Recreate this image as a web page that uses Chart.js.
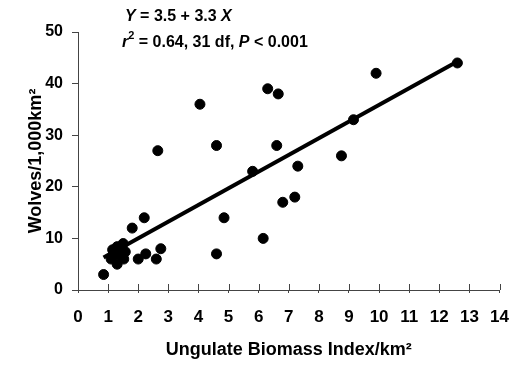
<!DOCTYPE html>
<html>
<head>
<meta charset="utf-8">
<script src="https://cdn.jsdelivr.net/npm/chart.js@4/dist/chart.umd.min.js"></script>
<style>
  html, body { margin: 0; padding: 0; background: #fff; }
  #wrap { width: 523px; height: 365px; }
</style>
</head>
<body>
<div id="wrap"><canvas id="myChart" width="523" height="365"></canvas></div>
<script>
// biomass index (x) and wolf density (y)
const biomass = [0.85, 1.1, 1.15, 1.3, 1.3, 1.35, 1.5, 1.52, 1.57, 1.8, 2.0, 2.2, 2.25, 2.6, 2.65, 2.75,
  4.05, 4.6, 4.6, 4.85, 5.8, 6.15, 6.3, 6.6, 6.65, 6.8, 7.2, 7.3, 8.75, 9.15, 9.9, 12.6, 1.4];
const wolves = [3, 6, 7.8, 8.4, 5, 6.8, 9, 6, 7.4, 12, 6, 14, 7, 6, 27, 8,
  36, 28, 7, 14, 23, 10, 39, 28, 38, 17, 18, 24, 26, 33, 42, 44, 8];

// fitted line end points (Y = 3.5 + 3.3 X)
const fitX = [0.85, 12.6];
const fitY = [6.3, 44.3];

const xTicks = [0, 1, 2, 3, 4, 5, 6, 7, 8, 9, 10, 11, 12, 13, 14];
const yTicks = [0, 10, 20, 30, 40, 50];

const FONT = "'Liberation Sans', Arial, sans-serif";

// small ticks that cross the x axis upward, plus the equation text
const extras = {
  id: "extras",
  afterDraw(chart) {
    const ctx = chart.ctx;
    const xs = chart.scales.x;
    const y0 = chart.chartArea.bottom;
    ctx.save();
    ctx.strokeStyle = "#444";
    ctx.lineWidth = 1;
    xTicks.forEach(v => {
      const px = Math.round(xs.getPixelForValue(v)) + 0.5;
      ctx.beginPath();
      ctx.moveTo(px, y0 - 6);
      ctx.lineTo(px, y0);
      ctx.stroke();
    });

    ctx.fillStyle = "#000";
    ctx.textBaseline = "alphabetic";
    const put = (txt, x, y, style, size) => {
      ctx.font = style + " " + size + "px " + FONT;
      ctx.fillText(txt, x, y);
      return x + ctx.measureText(txt).width;
    };
    let x = 125;
    x = put("Y", x, 21, "italic bold", 16);
    x = put(" = 3.5 + 3.3 ", x, 21, "bold", 16);
    put("X", x, 21, "italic bold", 16);

    x = 122;
    x = put("r", x, 47, "italic bold", 16);
    x = put("2", x, 39, "bold", 11);
    x = put(" = 0.64, 31 df, ", x, 47, "bold", 16);
    x = put("P", x, 47, "italic bold", 16);
    put(" < 0.001", x, 47, "bold", 16);
    ctx.restore();
  }
};

new Chart(document.getElementById("myChart").getContext("2d"), {
  data: {
    datasets: [
      {
        type: "scatter",
        data: biomass.map((b, i) => ({ x: b, y: wolves[i] })),
        backgroundColor: "#000",
        borderColor: "#000",
        pointRadius: 5,
        pointHoverRadius: 5,
      },
      {
        type: "line",
        data: fitX.map((b, i) => ({ x: b, y: fitY[i] })),
        borderColor: "#000",
        borderWidth: 4,
        pointRadius: 0,
        fill: false,
      },
    ],
  },
  options: {
    responsive: false,
    animation: false,
    layout: { padding: { top: 32, right: 11, left: 0, bottom: 0 } },
    plugins: { legend: { display: false }, tooltip: { enabled: false } },
    scales: {
      x: {
        type: "linear",
        min: 0,
        max: 14,
        afterBuildTicks: s => { s.ticks = xTicks.map(v => ({ value: v })); },
        afterFit: s => { s.height = 75; },
        grid: { drawOnChartArea: false, tickLength: 3, color: "#444" },
        border: { color: "#444", width: 1 },
        ticks: { color: "#000", padding: 14, font: { family: FONT, size: 17, weight: "bold" } },
        title: {
          display: true,
          text: "Ungulate Biomass Index/km²",
          color: "#000",
          padding: { top: 6 },
          font: { family: FONT, size: 18, weight: "bold" },
        },
      },
      y: {
        min: 0,
        max: 50,
        afterBuildTicks: s => { s.ticks = yTicks.map(v => ({ value: v })); },
        afterFit: s => { s.width = 78; },
        grid: { drawOnChartArea: false, tickLength: 6, color: "#444" },
        border: { color: "#444", width: 1 },
        ticks: { color: "#000", padding: 9, font: { family: FONT, size: 16, weight: "bold" } },
        title: {
          display: true,
          text: "Wolves/1,000km²",
          color: "#000",
          padding: { top: 25, bottom: 0 },
          font: { family: FONT, size: 18, weight: "bold" },
        },
      },
    },
  },
  plugins: [extras],
});
</script>
</body>
</html>
